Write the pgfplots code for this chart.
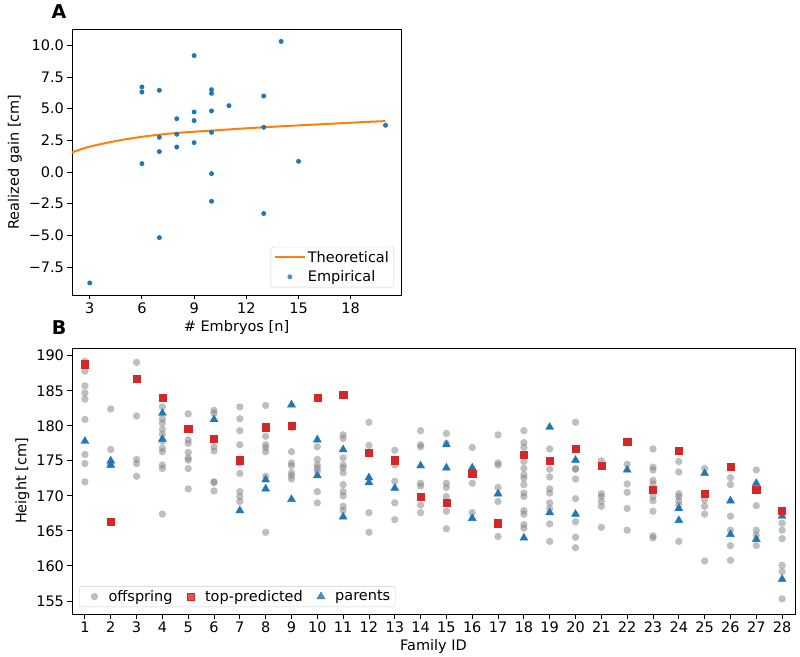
\documentclass[border=0pt]{standalone}
\usepackage{pgfplots}
\pgfplotsset{compat=1.18}
\usepackage{pgfplotstable}
\usepackage{fontspec}
\setmainfont{DejaVu Sans}
\definecolor{tabblue}{HTML}{1F77B4}
\definecolor{taborange}{HTML}{FF7F0E}
\definecolor{tabred}{HTML}{D62728}
\definecolor{legframe}{HTML}{CCCCCC}

\pgfplotstableread{
x y
1 189.2
1 187.8
1 185.7
1 184.7
1 183.8
1 180.9
1 175.9
1 174.6
1 172.0
2 182.4
2 176.6
2 174.5
3 189.05
3 181.4
3 175.2
3 174.6
3 172.8
4 182.7
4 181.0
4 180.4
4 179.5
4 178.8
4 177.8
4 176.8
4 176.3
4 174.4
4 173.9
4 167.4
5 181.7
5 178.0
5 177.5
5 176.2
5 175.4
5 175.1
5 173.9
5 171.0
6 182.2
6 181.8
6 177.0
6 176.4
6 172.0
6 171.9
6 170.7
7 182.7
7 181.0
7 179.3
7 177.3
7 174.7
7 173.2
7 170.6
7 169.9
7 169.2
8 182.9
8 178.5
8 177.3
8 176.9
8 176.3
8 172.8
8 164.8
9 179.7
9 176.3
9 174.7
9 174.3
9 173.3
9 172.9
9 172.4
10 177.0
10 175.2
10 174.4
10 174.0
10 173.5
10 170.6
10 169.0
11 178.7
11 178.2
11 175.4
11 174.4
11 174.0
11 173.3
11 171.6
11 170.6
11 170.0
11 168.5
11 167.9
12 180.5
12 177.2
12 167.6
12 164.8
13 176.5
13 174.4
13 172.1
13 169.0
13 166.6
14 179.3
14 177.3
14 177.0
14 171.8
14 171.4
14 168.7
14 167.6
15 178.9
15 177.5
15 171.8
15 171.2
15 169.9
15 167.8
15 165.3
16 176.9
16 171.8
16 167.6
17 178.7
17 174.7
17 174.4
17 171.2
17 169.2
17 164.2
18 179.3
18 177.6
18 176.9
18 174.9
18 173.9
18 173.0
18 172.5
18 171.6
18 170.4
18 169.9
18 167.9
18 167.4
18 165.9
18 165.4
19 176.7
19 173.8
19 172.7
19 171.0
19 170.4
19 169.0
19 168.2
19 166.0
19 163.5
20 180.5
20 173.9
20 173.8
20 172.4
20 169.6
20 166.3
20 164.1
20 162.6
21 175.0
21 170.3
21 169.9
21 169.2
21 168.5
21 165.5
22 174.5
22 171.7
22 170.5
22 168.2
22 165.1
23 176.7
23 174.1
23 173.7
23 172.2
23 171.7
23 169.9
23 169.3
23 167.8
23 164.3
23 164.0
24 174.9
24 173.4
24 170.3
24 169.9
24 169.3
24 168.7
24 163.5
25 173.9
25 169.4
25 168.5
25 167.4
25 160.7
26 172.6
26 171.6
26 167.1
26 165.1
26 162.9
26 160.8
27 173.7
27 168.6
27 165.1
27 164.4
27 162.9
28 166.1
28 165.1
28 163.9
28 160.1
28 159.2
28 155.3
}\offspring

\pgfplotstableread{
x y
1 188.8
2 166.3
3 186.7
4 184.0
5 179.6
6 178.2
7 175.1
8 179.8
9 180.0
10 184.05
11 184.4
12 176.2
13 175.1
14 169.9
15 169.0
16 173.2
17 166.1
18 175.9
19 175.0
20 176.7
21 174.3
22 177.7
23 170.9
24 176.4
25 170.3
26 174.2
27 170.9
28 167.9
}\toppred

\pgfplotstableread{
x y
1 177.8
2 175.0
2 174.4
4 181.8
4 178.1
6 180.9
7 167.9
8 172.3
8 171.0
9 183.0
9 169.5
10 178.0
10 172.9
11 176.6
11 167.0
12 172.6
12 171.9
13 171.1
14 174.3
15 177.3
15 174.0
16 174.0
16 166.8
17 170.3
18 164.0
19 179.8
19 167.6
20 175.1
20 167.4
22 173.7
24 168.2
24 166.5
25 173.2
26 169.3
26 164.5
27 171.8
27 163.8
28 167.1
28 158.1
}\parents

\pgfplotstableread{
x y
3 -8.76
6 6.71
6 6.31
6 0.66
7 6.45
7 2.74
7 1.61
7 -5.18
8 4.21
8 2.98
8 1.97
9 9.19
9 4.74
9 4.06
9 2.32
10 6.50
10 6.21
10 4.82
10 3.13
10 -0.13
10 -2.31
11 5.24
13 6.00
13 3.53
13 -3.28
14 10.31
15 0.84
20 3.69
}\empirical

\pgfplotstableread{
x y
1.96 1.53
2.5 1.80
3 2.00
4 2.31
5 2.57
6 2.78
7 2.95
8 3.08
9 3.18
10 3.27
11 3.36
12 3.45
13 3.53
14 3.61
15 3.68
16 3.75
17 3.82
18 3.89
19 3.96
20 4.02
}\theory

\pgfplotsset{
  mpl/.style={
    scale only axis,
    font=\fontsize{14.5}{17}\selectfont,
    /pgf/number format/assume math mode=true,
    axis line style={line width=0.9pt, black},
    tick style={line width=0.9pt, black},
    tick align=outside,
    major tick length=4.5pt,
    tick pos=left,
    minor tick num=0,
    legend cell align=left,
    legend style={draw=legframe, rounded corners=2.5pt, fill=white, fill opacity=0.8, text opacity=1,
      font=\fontsize{14.5}{17}\selectfont, inner xsep=3pt, inner ysep=2pt},
  },
  lineleg/.style={legend image code/.code={\draw[##1] (0pt,0pt) -- (30pt,0pt);}},
  markleg30/.style={legend image code/.code={\path (0pt,-6pt) (30pt,6pt); \draw[##1] plot coordinates {(15pt,0pt)};}},
  markleg24/.style={legend image code/.code={\path (0pt,-6pt) (24pt,6pt); \draw[##1] plot coordinates {(12pt,0pt)};}},
}

\begin{document}
\begin{tikzpicture}[x=1pt,y=1pt]
\path[use as bounding box] (0pt,0pt) rectangle (800pt,656pt);

\begin{axis}[mpl,
  at={(72pt,361pt)}, anchor=south west,
  width=329pt, height=266pt,
  xmin=1.98, xmax=20.89, ymin=-9.71, ymax=11.29,
  xtick={3,6,9,12,15,18},
  ytick={-7.5,-5,-2.5,0,2.5,5,7.5,10},
  yticklabels={−7.5,−5.0,−2.5,0.0,2.5,5.0,7.5,10.0},
  xlabel={\# Embryos [n]},
  ylabel={Realized gain [cm]},
  legend style={at={(0.979,0.029)}, anchor=south east, row sep=3pt},
]
\addplot[taborange, line width=2pt, smooth, no marks, lineleg] table {\theory};
\addlegendentry{Theoretical}
\addplot[only marks, mark=*, mark size=2.5pt, color=tabblue, mark options={draw opacity=0}, markleg30] table {\empirical};
\addlegendentry{Empirical}
\end{axis}

\begin{axis}[mpl,
  at={(72pt,42pt)}, anchor=south west,
  width=723pt, height=266pt,
  xmin=0.5, xmax=28.5, ymin=153.14, ymax=191.1,
  xtick={1,2,...,28},
  ytick={155,160,...,190},
  xlabel={Family ID},
  ylabel={Height [cm]},
  legend columns=3,
  legend style={at={(0.0097,0.026)}, anchor=south west,
    /tikz/every even column/.append style={column sep=4pt}},
]
\addplot[only marks, mark=*, mark size=3.7pt, color=gray, mark options={draw opacity=0, fill opacity=0.5}, markleg24] table {\offspring};
\addlegendentry{offspring}
\addplot[only marks, mark=triangle*, mark size=4.6pt, color=tabblue, forget plot] table {\parents};
\addplot[only marks, mark=square*, mark size=3.6pt, color=tabred, markleg24] table {\toppred};
\addlegendentry{top-predicted}
\addlegendimage{only marks, mark=triangle*, mark size=4.6pt, color=tabblue, markleg24}
\addlegendentry{parents}
\end{axis}

\node[font=\fontsize{19}{21}\selectfont\bfseries] at (59pt,644pt) {A};
\node[font=\fontsize{19}{21}\selectfont\bfseries] at (59pt,328pt) {B};
\end{tikzpicture}
\end{document}
